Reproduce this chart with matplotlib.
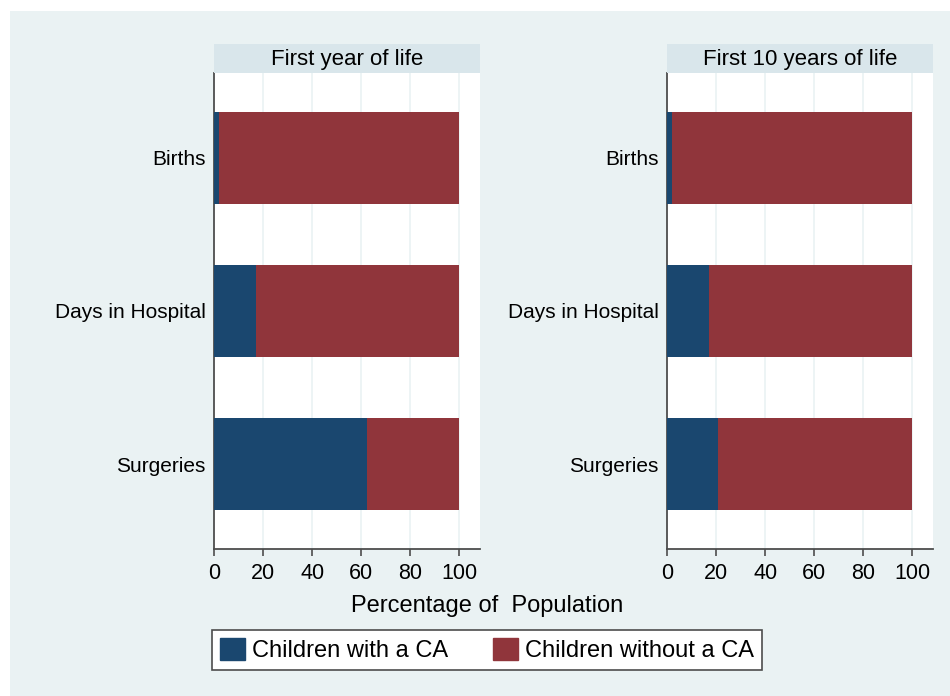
import matplotlib.pyplot as plt
from matplotlib.patches import Rectangle, Patch

plt.rcParams['font.family'] = ['Liberation Sans', 'DejaVu Sans']

categories = ["Births", "Days in Hospital", "Surgeries"]
panel_titles = ["First year of life", "First 10 years of life"]
with_ca = [[2, 17, 62.5], [2, 17, 21]]
without_ca = [[100 - v for v in vals] for vals in with_ca]
xticks = [0, 20, 40, 60, 80, 100]

blue = "#1a476f"
red = "#90353b"
bg = "#eaf2f3"
head = "#d9e6eb"
axis_col = "#4d4d4d"

fig = plt.figure(figsize=(9.5, 6.96), dpi=100, facecolor="white")
fig.patches.append(Rectangle((10 / 950, 0), 1, 1 - 11 / 696, transform=fig.transFigure,
                             facecolor=bg, edgecolor="none", zorder=-10))

W, H = 950, 696
lefts = [214, 667]
for i, left in enumerate(lefts):
    ax = fig.add_axes([left / W, (H - 549) / H, 266 / W, (549 - 73) / H])
    ax.set_facecolor("white")
    y = list(range(len(categories)))
    ax.barh(y, with_ca[i], height=0.6, color=blue, zorder=3)
    ax.barh(y, without_ca[i], left=with_ca[i], height=0.6, color=red, zorder=3)
    ax.set_ylim(2.555, -0.555)
    ax.set_xlim(0, 108.5)
    ax.set_xticks(xticks)
    ax.set_yticks(y)
    ax.set_yticklabels(categories)
    for x in xticks[1:]:
        ax.axvline(x, color=bg, lw=1.2, zorder=1)
    for s in ["top", "right"]:
        ax.spines[s].set_visible(False)
    for s in ["left", "bottom"]:
        ax.spines[s].set_color(axis_col)
        ax.spines[s].set_linewidth(1.3)
    ax.tick_params(axis="y", length=0, pad=6, labelsize=15, colors="black")
    ax.tick_params(axis="x", length=5, width=1.2, color=axis_col, pad=5, labelsize=15.5)

    # panel header strip
    fig.patches.append(Rectangle((left / W, (H - 73) / H), 266 / W, 29 / H,
                                 transform=fig.transFigure, facecolor=head,
                                 edgecolor="none"))
    fig.text((left + 133) / W, (H - 59) / H, panel_titles[i], ha="center", va="center",
             fontsize=16)

fig.text(487 / W, (H - 606) / H, "Percentage of  Population", ha="center", va="center",
         fontsize=17)

handles = [Patch(facecolor=blue, edgecolor=blue), Patch(facecolor=red, edgecolor=red)]
leg = fig.legend(handles, ["Children with a CA", "Children without a CA"], loc="center",
                 bbox_to_anchor=(487 / W, 1 - 650 / H), ncol=2, fontsize=17,
                 frameon=True, fancybox=False, edgecolor=axis_col, framealpha=1,
                 handlelength=1.05, handleheight=1.05, handletextpad=0.3,
                 columnspacing=1.9, borderpad=0.35, borderaxespad=0)
leg.get_frame().set_linewidth(1.2)

plt.savefig("out.png", dpi=100, facecolor=fig.get_facecolor())
